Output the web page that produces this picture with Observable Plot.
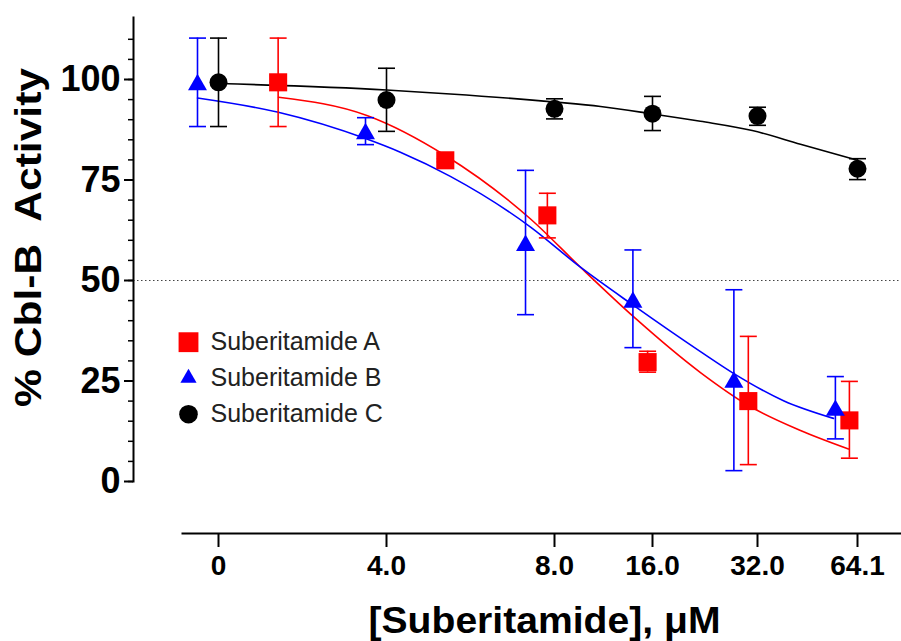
<!DOCTYPE html>
<html>
<head>
<meta charset="utf-8">
<script src="https://cdn.jsdelivr.net/npm/d3@7"></script>
<script src="https://cdn.jsdelivr.net/npm/@observablehq/plot@0.6"></script>
<style>
  body { margin: 0; background: #fff; }
  svg text { white-space: pre; }
</style>
</head>
<body>
<div id="chart"></div>
<script>
// ---------- data ----------
const xTicks = [0, 4, 8, 16, 32, 64.1];
const xTickLabels = ["0", "4.0", "8.0", "16.0", "32.0", "64.1"];
const yMajorTicks = [0, 25, 50, 75, 100];
const yMinorTicks = [0, 5, 10, 15, 20, 25, 30, 35, 40, 45, 50, 55, 60, 65, 70, 75, 80, 85, 90, 95, 100, 105, 110];

const seriesNames = ["Suberitamide A", "Suberitamide B", "Suberitamide C"];
const seriesColors = ["#ff0000", "#0000ff", "#000000"];
const seriesSymbols = ["square", "triangle", "circle"];

// Suberitamide A (red squares)
const concA = [1.42, 5.40, 7.83, 15.6, 30.6, 61.5];
const meanA = [99.3, 79.9, 66.2, 29.7, 20.0, 15.2];
const lowA  = [88.3, 79.5, 60.6, 27.2, 4.2, 5.8];
const highA = [110.3, 80.3, 71.7, 32.4, 36.1, 24.9];
const curveAx = [1.43, 3.55, 5.40, 7.43, 10.12, 14.45, 23.31, 30.63, 45.8, 61.2];
const curveAy = [95.6, 91.0, 81.1, 65.3, 53.3, 41.0, 27.1, 18.9, 12.7, 8.1];

// Suberitamide B (blue triangles)
const concB = [-0.5, 3.5, 7.31, 14.4, 28.4, 57.0];
const meanB = [98.7, 86.5, 58.7, 44.6, 24.7, 17.7];
const lowB  = [88.3, 83.8, 41.5, 33.3, 2.7, 10.6];
const highB = [110.3, 90.5, 77.4, 57.6, 47.7, 26.1];
const curveBx = [-0.5, 1.40, 3.5, 4.33, 5.52, 7.43, 10.12, 14.45, 23.31, 28.34, 40.35, 56.4];
const curveBy = [95.4, 91.9, 85.3, 81.9, 75.9, 63.3, 53.3, 43.8, 32.3, 26.9, 20.1, 15.7];

// Suberitamide C (black circles)
const concC = [0, 4, 8, 16, 32, 64.1];
const meanC = [99.3, 94.9, 92.7, 91.5, 90.9, 77.8];
const lowC  = [88.3, 87.1, 90.2, 87.3, 88.6, 75.1];
const highC = [110.3, 102.8, 95.2, 95.8, 93.1, 80.3];
const curveCx = [0, 4, 5.52, 8, 11.76, 16.16, 23.3, 31.2, 45.8, 64.1];
const curveCy = [99.0, 97.4, 96.4, 94.4, 93.3, 91.4, 89.6, 87.3, 83.9, 79.9];

const referenceLine = [50];
const yTitle = "% Cbl-B  Activity";
const xTitle = "[Suberitamide], \u03bcM";

// ---------- build tables ----------
const seriesData = [
  {conc: concA, mean: meanA, low: lowA, high: highA, cx: curveAx, cy: curveAy},
  {conc: concB, mean: meanB, low: lowB, high: highB, cx: curveBx, cy: curveBy},
  {conc: concC, mean: meanC, low: lowC, high: highC, cx: curveCx, cy: curveCy}
].map((s, k) => ({
  name: seriesNames[k],
  color: seriesColors[k],
  symbol: seriesSymbols[k],
  points: s.conc.map((c, i) => ({x: c, y: s.mean[i], lo: s.low[i], hi: s.high[i]})),
  curve: s.cx.map((c, i) => ({x: c, y: s.cy[i]}))
}));

// ---------- styling ----------
const pointR = {square: 10.2, triangle: 7.05, circle: 9};
const legendR = {square: 11.2, triangle: 6, circle: 9.3};
const capSymbol = {
  draw(context, size) {
    const w = Math.sqrt(size / Math.PI);
    context.moveTo(-w, 0);
    context.lineTo(w, 0);
  }
};
const xPixelStops = [218, 386, 554, 652, 757, 857];

const marks = [];
marks.push(Plot.ruleY(referenceLine, {stroke: "#444", strokeWidth: 1, strokeDasharray: "1.5,2.5"}));
for (const s of seriesData) {
  marks.push(Plot.line(s.curve, {x: "x", y: "y", stroke: s.color, strokeWidth: 1.6, curve: "monotone-x"}));
}
for (const s of seriesData) {
  marks.push(Plot.ruleX(s.points, {x: "x", y1: "lo", y2: "hi", stroke: s.color, strokeWidth: 1.6}));
  marks.push(Plot.dot(s.points, {x: "x", y: "lo", symbol: capSymbol, r: 8.5, fill: "none", stroke: s.color, strokeWidth: 1.6}));
  marks.push(Plot.dot(s.points, {x: "x", y: "hi", symbol: capSymbol, r: 8.5, fill: "none", stroke: s.color, strokeWidth: 1.6}));
}
for (const s of seriesData) {
  marks.push(Plot.dot(s.points, {x: "x", y: "y", symbol: s.symbol, r: pointR[s.symbol], fill: s.color, stroke: "none"}));
}
// axes
marks.push(Plot.frame({anchor: "left", insetBottom: 52, strokeWidth: 2}));
marks.push(Plot.frame({anchor: "bottom", insetLeft: 49, strokeWidth: 2}));
marks.push(Plot.axisY({ticks: yMinorTicks, tickSize: 5, fill: "none", strokeWidth: 1.5, label: null}));
marks.push(Plot.axisY({ticks: yMajorTicks, tickSize: 9, tickPadding: 4, fontSize: 36, fontWeight: "bold", strokeWidth: 2, label: null}));
marks.push(Plot.axisX({ticks: xTicks, tickFormat: d => xTickLabels[xTicks.indexOf(d)], tickSize: 14, tickPadding: 8, fontSize: 28, fontWeight: "bold", strokeWidth: 2, label: null}));
// titles
marks.push(Plot.text([yTitle], {text: d => d, frameAnchor: "left", dx: -104, dy: -38, rotate: -90, textAnchor: "middle", lineAnchor: "middle", fontSize: 37, fontWeight: "bold", fill: "#000"}));
marks.push(Plot.text([xTitle], {text: d => d, frameAnchor: "bottom", dx: 27, dy: 88, textAnchor: "middle", lineAnchor: "middle", fontSize: 37, fontWeight: "bold", fill: "#000"}));
// legend
seriesData.forEach((s, i) => {
  marks.push(Plot.dot([s.name], {frameAnchor: "top-left", dx: 55, dy: 324.7 + 36 * i, symbol: s.symbol, r: legendR[s.symbol], fill: s.color, stroke: "none"}));
  marks.push(Plot.text([s.name], {text: d => d, frameAnchor: "top-left", dx: 77, dy: 324.7 + 36 * i, textAnchor: "start", lineAnchor: "middle", fontSize: 25, fill: "#222"}));
});

const chart = Plot.plot({
  width: 901,
  height: 641,
  marginLeft: 133,
  marginRight: 0,
  marginTop: 17,
  marginBottom: 108,
  style: {fontFamily: "'Liberation Sans', Arial, sans-serif", background: "#fff", color: "#000"},
  x: {type: "linear", domain: xTicks, range: xPixelStops, label: null},
  y: {type: "linear", domain: [0, 115], range: [481, 18.7], label: null},
  marks
});

document.getElementById("chart").appendChild(chart);

// stretch the two bold titles to the reference's measured widths
chart.querySelectorAll("text").forEach(t => {
  if (t.textContent === yTitle) { t.setAttribute("textLength", 339); t.setAttribute("lengthAdjust", "spacingAndGlyphs"); }
  if (t.textContent === xTitle) { t.setAttribute("textLength", 352); t.setAttribute("lengthAdjust", "spacingAndGlyphs"); }
});
</script>
</body>
</html>
